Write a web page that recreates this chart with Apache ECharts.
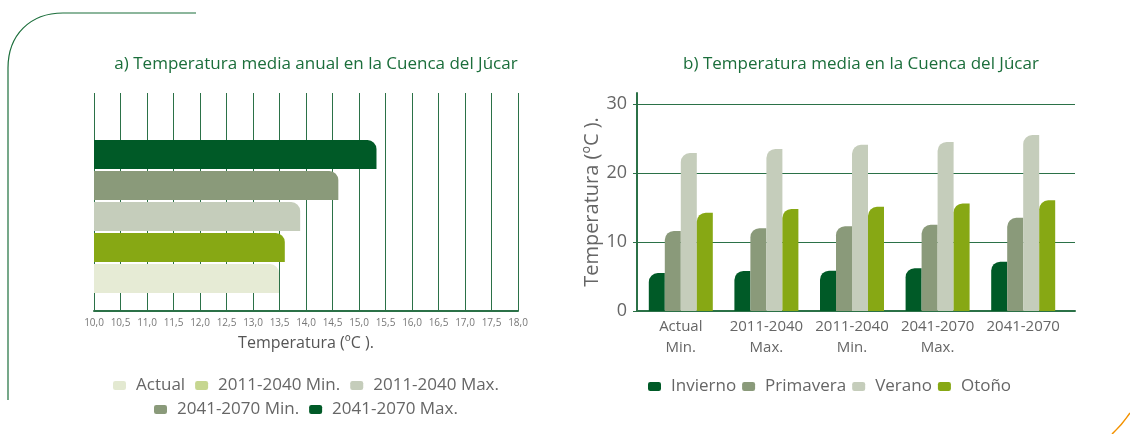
<!DOCTYPE html>
<html>
<head>
<meta charset="utf-8">
<script src="https://cdn.jsdelivr.net/npm/echarts@6/dist/echarts.min.js"></script>
<style>
  html, body { margin: 0; padding: 0; background: #fff; }
  #chart { width: 1130px; height: 434px; }
</style>
</head>
<body>
<div id="chart"></div>
<script>
// a) annual mean temperature (bottom to top)
const scenarios = ["Actual", "2011-2040 Min.", "2011-2040 Max.", "2041-2070 Min.", "2041-2070 Max."];
const annualMean = [13.49, 13.6, 13.89, 14.61, 15.33];
const scenarioColors = ["#e6ebd5", "#87a814", "#c5cdbb", "#8a9a7a", "#005a27"];
const scenarioLegendColors = ["#e3e9d1", "#c6d690", "#c5cdbb", "#8a9a7a", "#005a27"];

// b) seasonal mean temperature
const groupLabels = ["Actual\nMin.", "2011-2040\nMax.", "2011-2040\nMin.", "2041-2070\nMax.", "2041-2070"];
const seasons = ["Invierno", "Primavera", "Verano", "Otoño"];
const invierno = [5.5, 5.8, 5.85, 6.2, 7.15];
const primavera = [11.6, 12.0, 12.3, 12.5, 13.5];
const verano = [22.9, 23.5, 24.1, 24.5, 25.5];
const otono = [14.25, 14.8, 15.1, 15.6, 16.05];
const seasonColors = ["#005a27", "#8a9a7a", "#c5cdbb", "#87a814"];
const tempTicks = [0, 10, 20, 30];

const FONT = "Open Sans";
const GREEN = "#1b6e3b";
const LINE = "#2b7147";
const GREY = "#666";

const chart = echarts.init(document.getElementById("chart"));

const leftSeries = scenarios.map((name, i) => ({
  name,
  type: "bar",
  xAxisIndex: 1,
  yAxisIndex: 1,
  barWidth: 29,
  barGap: "-100%",
  itemStyle: { color: scenarioColors[i], borderRadius: [0, 9, 0, 0] },
  data: annualMean.map((v, j) => (j === i ? v : "-")),
}));

const seasonData = [invierno, primavera, verano, otono];
const rightSeries = seasons.map((name, i) => ({
  name,
  type: "bar",
  xAxisIndex: 3,
  yAxisIndex: 3,
  barWidth: 16,
  barGap: 0,
  itemStyle: { color: seasonColors[i], borderRadius: [9, 0, 0, 0] },
  data: seasonData[i],
}));

const legendText = { fontFamily: FONT, fontSize: 17, color: GREY, padding: [0, 0, 0, 5] };
const titleText = { fontFamily: FONT, fontSize: 17, fontWeight: "normal", color: GREEN };
const legendBase = {
  icon: "roundRect", itemWidth: 13, itemHeight: 9, padding: 0,
  textStyle: legendText, selectedMode: false,
};

chart.setOption({
  animation: false,
  textStyle: { fontFamily: FONT },
  title: [
    {
      text: "a) Temperatura media anual en la Cuenca del Júcar",
      left: 311, top: 51, textAlign: "center", textStyle: titleText,
    },
    {
      text: "b) Temperatura media en la Cuenca del Júcar",
      left: 856, top: 51, textAlign: "center", textStyle: titleText,
    },
  ],
  legend: [
    {
      ...legendBase,
      data: scenarios.slice(0, 3).map((n, i) => ({ name: n, itemStyle: { color: scenarioLegendColors[i] } })),
      left: 113, top: 377, itemGap: 10,
    },
    {
      ...legendBase,
      data: scenarios.slice(3).map((n, i) => ({ name: n, itemStyle: { color: scenarioLegendColors[i + 3] } })),
      left: 154, top: 401, itemGap: 10,
    },
    {
      ...legendBase,
      data: seasons,
      left: 648, top: 378, itemGap: 6,
    },
  ],
  grid: [
    { left: 94, right: 612, top: 93, bottom: 123 },
    { left: 94, right: 612, top: 139, bottom: 140 },
    { left: 637, right: 55, top: 93, bottom: 123 },
    { left: 638, right: 64, top: 93, bottom: 123 },
  ],
  xAxis: [
    {
      type: "value", gridIndex: 0, min: 10, max: 18, interval: 0.5,
      axisLine: { show: true, lineStyle: { color: LINE, width: 2 } },
      axisTick: { show: false },
      axisLabel: {
        fontSize: 10, color: "#777", margin: 7,
        formatter: (v) => v.toFixed(1).replace(".", ","),
      },
      splitLine: { show: true, lineStyle: { color: LINE, width: 1 } },
      name: "Temperatura (ºC ).", nameLocation: "middle", nameGap: 24,
      nameTextStyle: { fontSize: 16, color: "#555" },
    },
    { type: "value", gridIndex: 1, min: 10, max: 18, show: false },
    {
      type: "value", gridIndex: 2, min: 0, max: 1,
      axisLine: { show: true, lineStyle: { color: LINE, width: 2 } },
      axisTick: { show: false }, axisLabel: { show: false }, splitLine: { show: false },
    },
    {
      type: "category", gridIndex: 3, data: groupLabels,
      axisLine: { show: false }, axisTick: { show: false },
      axisLabel: { fontSize: 15, lineHeight: 21, color: GREY, margin: 5, interval: 0 },
    },
  ],
  yAxis: [
    { type: "category", gridIndex: 0, data: [""], show: false },
    { type: "category", gridIndex: 1, data: scenarios, show: false },
    {
      type: "value", gridIndex: 2, min: 0, max: 31.6, interval: 10,
      axisLine: { show: true, lineStyle: { color: LINE, width: 2 } },
      axisTick: { show: true, length: 4, lineStyle: { color: LINE }, customValues: tempTicks },
      axisLabel: { fontSize: 18, color: GREY, margin: 10, customValues: tempTicks },
      splitLine: { show: true, lineStyle: { color: LINE, width: 1 } },
      name: "Temperatura (ºC ).", nameLocation: "middle", nameGap: 35,
      nameTextStyle: { fontSize: 20, color: GREY },
    },
    { type: "value", gridIndex: 3, min: 0, max: 31.6, show: false },
  ],
  series: [...leftSeries, ...rightSeries],
  graphic: [
    {
      type: "line",
      shape: { x1: 8, y1: 400, x2: 8, y2: 68 },
      style: { stroke: GREEN, lineWidth: 1.2 },
    },
    {
      type: "bezierCurve",
      shape: { x1: 8, y1: 68, cpx1: 8, cpy1: 35, cpx2: 30, cpy2: 13, x2: 63, y2: 13 },
      style: { fill: null, stroke: GREEN, lineWidth: 1.2 },
    },
    {
      type: "line",
      shape: { x1: 63, y1: 13, x2: 196, y2: 13 },
      style: { stroke: GREEN, lineWidth: 1.2 },
    },
    {
      type: "bezierCurve",
      shape: { x1: 1112, y1: 434, cpx1: 1122, cpy1: 425, x2: 1130, y2: 413 },
      style: { fill: null, stroke: "#f39200", lineWidth: 1.5 },
    },
  ],
});
</script>
</body>
</html>
